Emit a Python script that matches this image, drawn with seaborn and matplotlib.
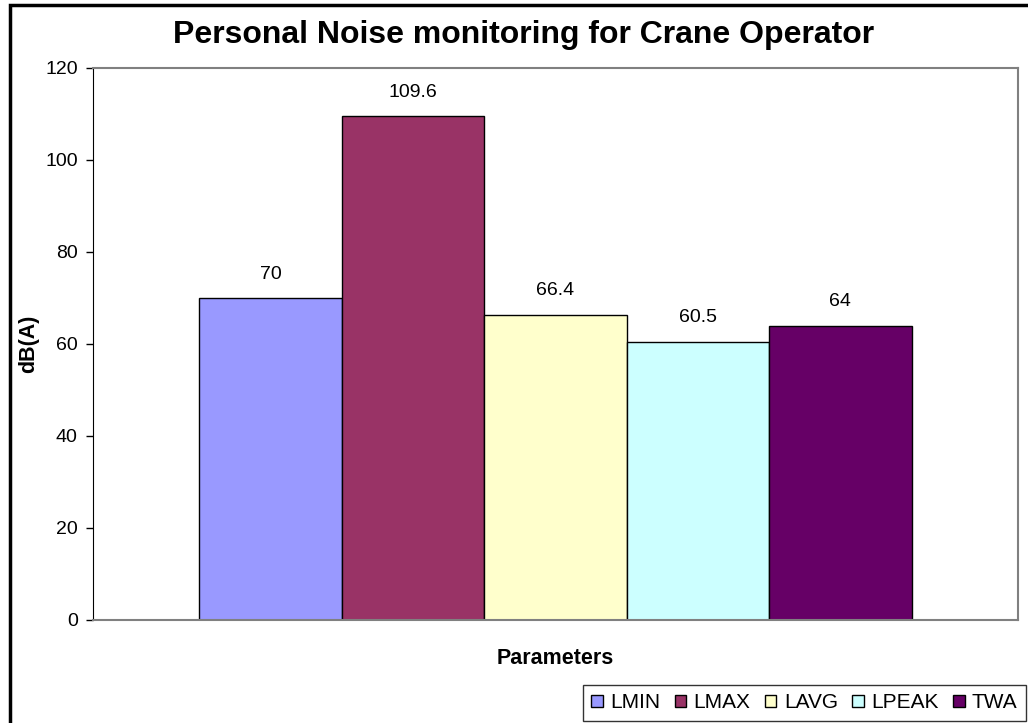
"""personal noise monitoring bar chart"""

import pandas as pd
import matplotlib.pyplot as plt
import seaborn as sns
from matplotlib.patches import Rectangle, Patch

params = ["LMIN", "LMAX", "LAVG", "LPEAK", "TWA"]
levels = [70, 109.6, 66.4, 60.5, 64]
value_labels = ["70", "109.6", "66.4", "60.5", "64"]
colors = ["#9999FF", "#993366", "#FFFFCC", "#CCFFFF", "#660066"]

df = pd.DataFrame({"group": ["Parameters"] * len(params), "param": params, "level": levels})

sns.set_style("white")
plt.rcParams["font.family"] = ["Liberation Sans", "DejaVu Sans"]
for key in ["text.color", "axes.labelcolor", "xtick.color", "ytick.color"]:
    plt.rcParams[key] = "black"

fig = plt.figure(figsize=(10.28, 7.23), dpi=100)
ax = fig.add_axes([93 / 1028, 1 - 620 / 723, 925 / 1028, 552 / 723])

sns.barplot(data=df, x="group", y="level", hue="param", hue_order=params,
            palette=colors, saturation=1, width=0.77, gap=0, edgecolor="black",
            linewidth=1, legend=False, ax=ax)

for cont, lab in zip(ax.containers, value_labels):
    ax.bar_label(cont, labels=[lab], padding=11, fontsize=14)

ax.set_xlim(-0.5, 0.5)
ax.set_ylim(0, 120)
ax.set_yticks(range(0, 121, 20))
ax.tick_params(axis="y", labelsize=14, left=True, length=5, width=1, pad=6)
ax.set_xticks([])
ax.set_xlabel("Parameters", fontsize=15.5, fontweight="bold", labelpad=20)
ax.set_ylabel("dB(A)", fontsize=15.5, fontweight="bold", labelpad=4)
ax.spines["left"].set_color("black")
for s in ["top", "right", "bottom"]:
    ax.spines[s].set_color("#808080")
    ax.spines[s].set_linewidth(1.5)

fig.text(524 / 1028, 1 - 43 / 723, "Personal Noise monitoring for Crane Operator",
         ha="center", va="baseline", fontsize=23, fontweight="bold")

# outer chart border (right and bottom edges fall outside the image)
fig.patches.append(Rectangle((10 / 1028, -0.1), 1.2, 1 - 5 / 723 + 0.1,
                             transform=fig.transFigure, fill=False,
                             edgecolor="black", linewidth=2.5))

handles = [Patch(facecolor=c, edgecolor="black", label=p) for p, c in zip(params, colors)]
leg = fig.legend(handles=handles, loc="upper left",
                 bbox_to_anchor=(583 / 1028, 1 - 685 / 723), ncol=5,
                 fontsize=15, frameon=True, fancybox=False, handlelength=0.55,
                 handleheight=0.55, handletextpad=0.35, columnspacing=0.7,
                 borderpad=0.4, borderaxespad=0)
leg.get_frame().set_edgecolor("black")
leg.get_frame().set_linewidth(1)

fig.savefig("out.png", dpi=100)
